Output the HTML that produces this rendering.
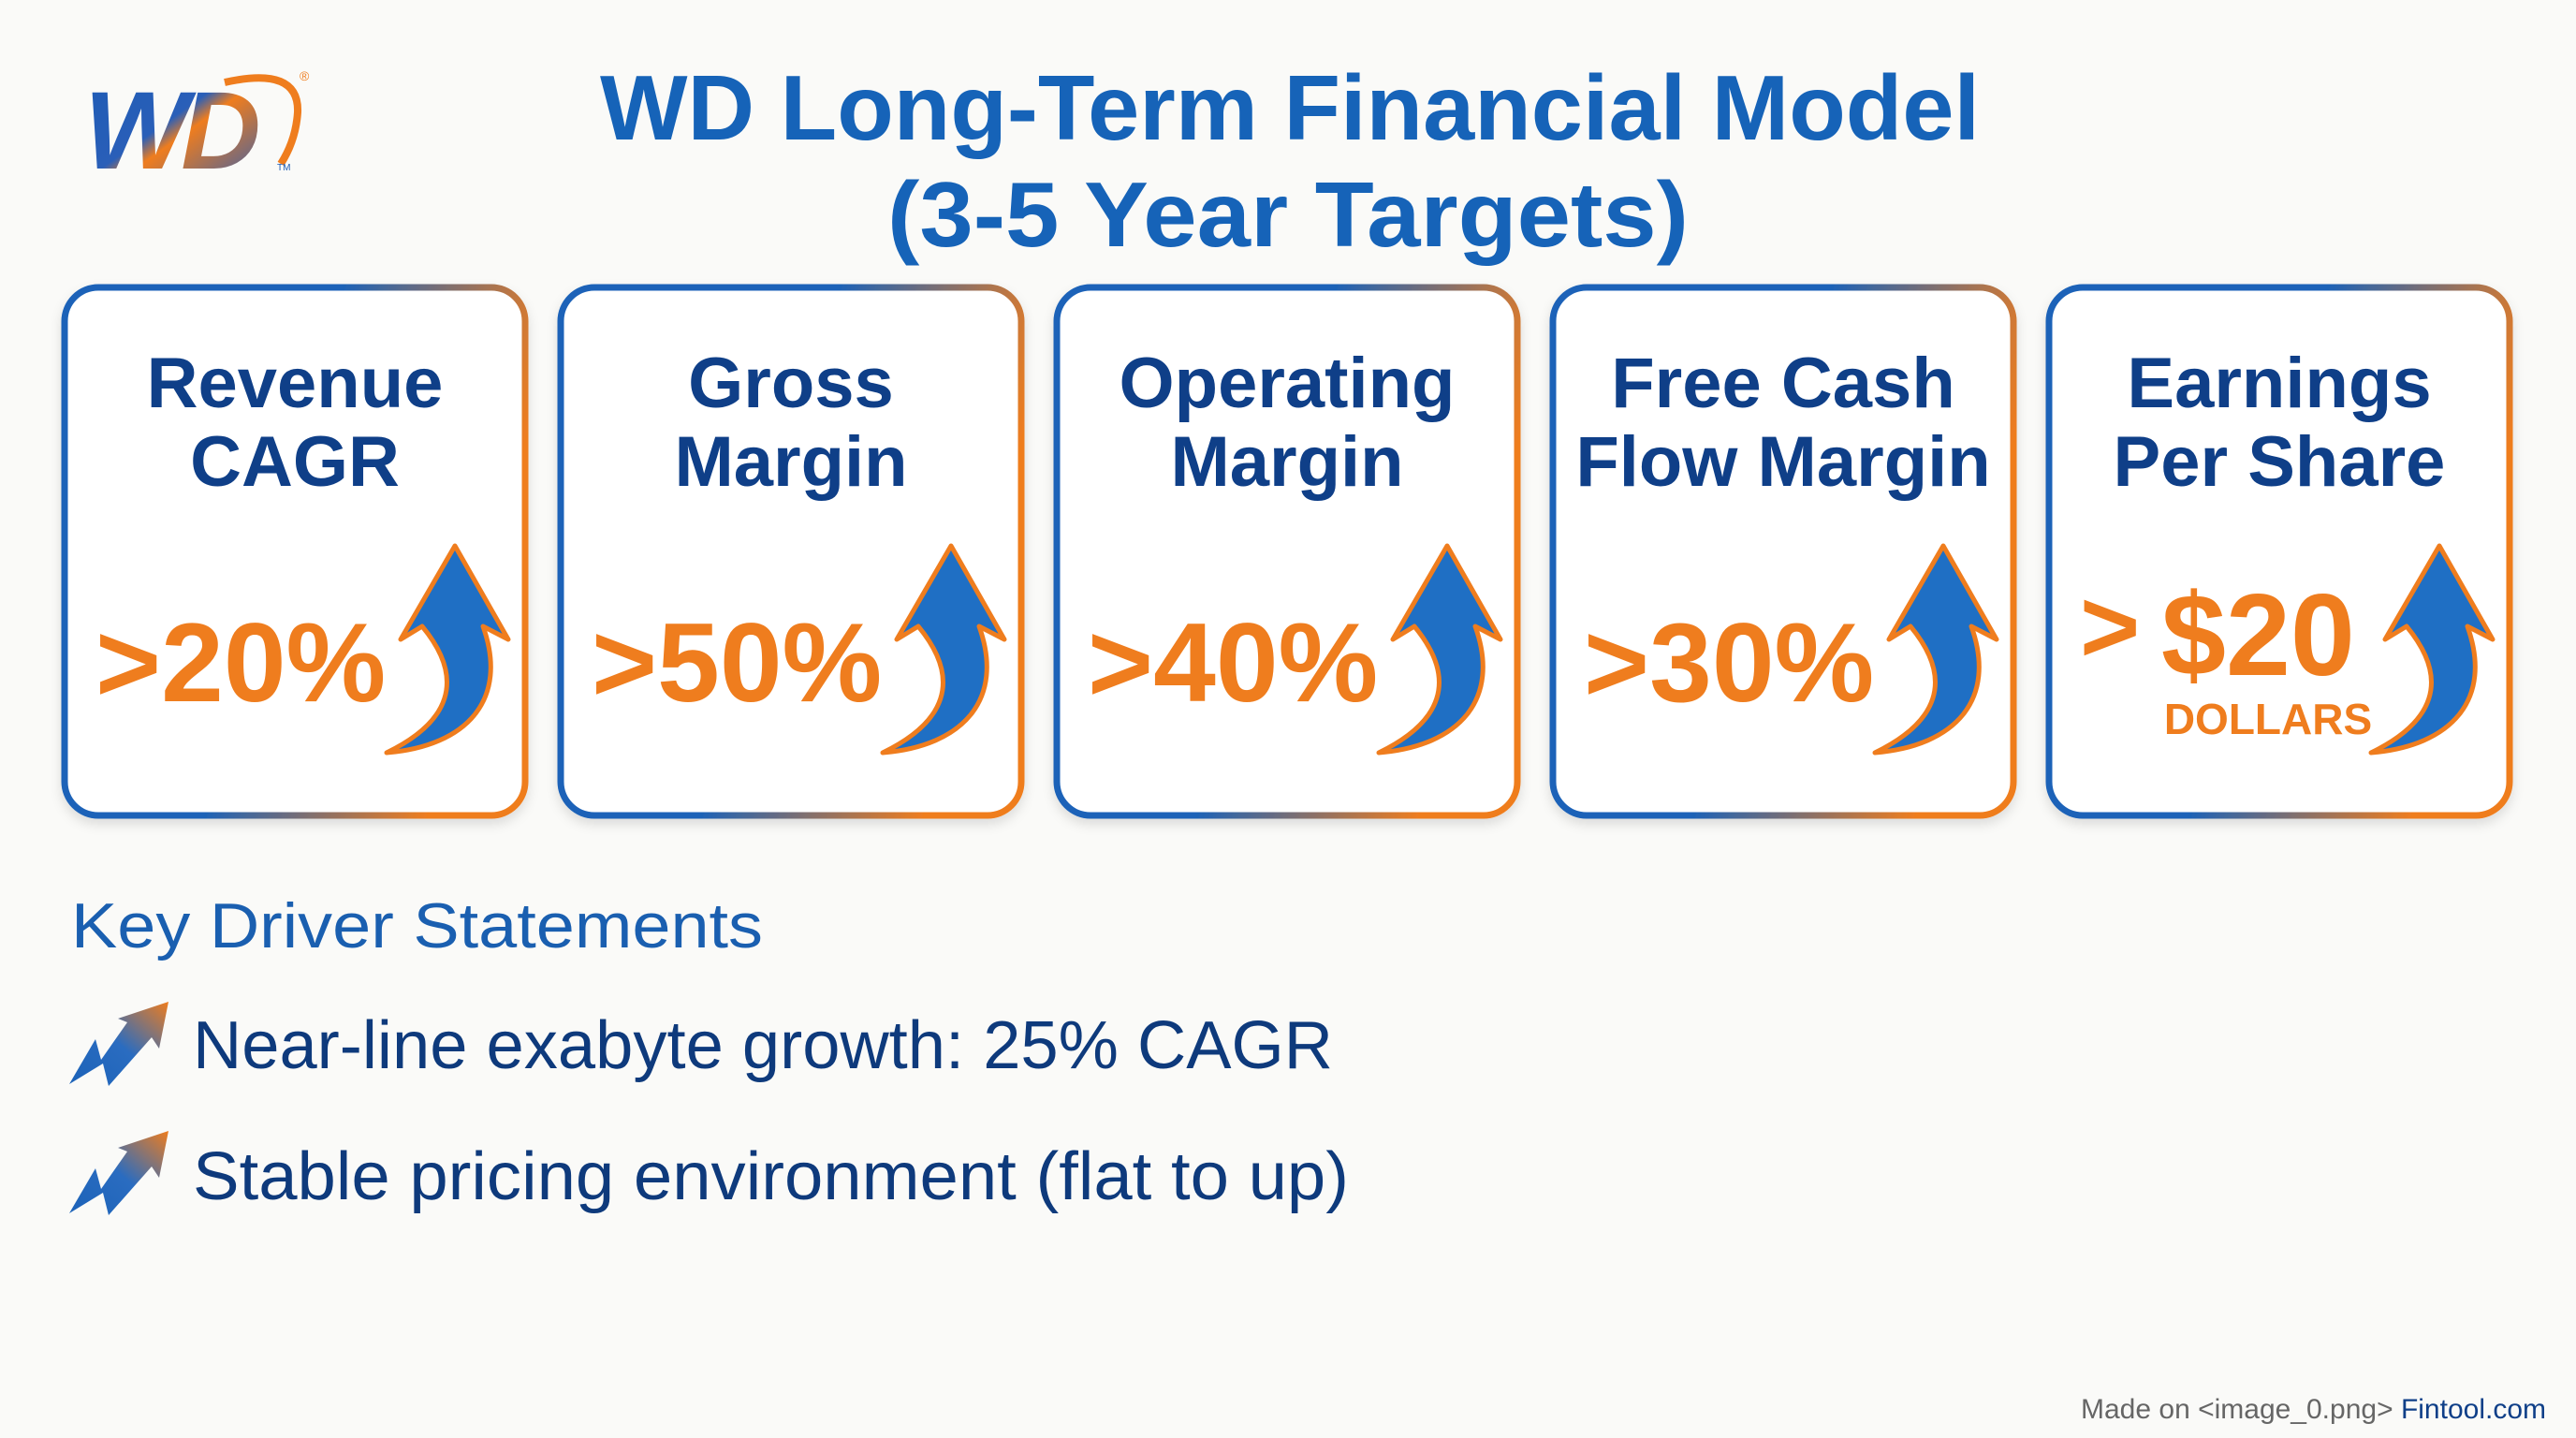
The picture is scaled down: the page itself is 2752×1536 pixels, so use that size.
<!DOCTYPE html>
<html><head><meta charset="utf-8"><style>
html,body{margin:0;padding:0;background:#fafaf8;}
svg{display:block;}
text{font-family:"Liberation Sans",Arial,sans-serif;}
</style></head><body>
<svg width="2752" height="1536" viewBox="0 0 2752 1536" xmlns="http://www.w3.org/2000/svg">
<defs>
<linearGradient id="bd" x1="0" y1="0" x2="1" y2="0.3">
<stop offset="0" stop-color="#1b62b8"/><stop offset="0.55" stop-color="#1b62b8"/><stop offset="1" stop-color="#ef7d1e"/></linearGradient>
<linearGradient id="ic" x1="0" y1="1" x2="1" y2="0">
<stop offset="0" stop-color="#1b62b8"/><stop offset="0.5" stop-color="#2a6cc0"/><stop offset="1" stop-color="#ef7d1e"/></linearGradient>
<linearGradient id="wd" x1="0" y1="0" x2="1" y2="1">
<stop offset="0" stop-color="#1d5bb5"/><stop offset="0.45" stop-color="#2a5fb8"/><stop offset="0.55" stop-color="#ef7d1e"/><stop offset="1" stop-color="#2b5eb5"/></linearGradient>
<filter id="sh" x="-5%" y="-5%" width="110%" height="115%"><feDropShadow dx="0" dy="6" stdDeviation="6" flood-color="#000" flood-opacity="0.12"/></filter>
<g id="arr">
<path d="M344,497 C410,465 430,420 382,362 L359,376 L417,276 L474,376 L447,362 C475,440 430,490 344,497 Z" fill="#1f6fc4" stroke="#ef7d1e" stroke-width="5" stroke-linejoin="round"/>
</g>
<g id="ico">
<path d="M0,88 L28,40 L34,62 L62,22 L52,18 L106,0 L96,50 L88,38 L42,90 L36,66 Z" fill="url(#ic)"/>
</g>
</defs>

<!-- logo -->
<text x="90" y="180" font-size="118" font-weight="bold" font-style="italic" fill="url(#wd)" letter-spacing="-8">WD</text>
<path d="M240,88 Q320,70 318,120 Q316,150 300,175" fill="none" stroke="#ef7d1e" stroke-width="8"/>
<text x="320" y="86" font-size="14" fill="#ef7d1e">®</text>
<text x="296" y="182" font-size="10" fill="#1d5bb5">TM</text>

<!-- title -->
<text x="641" y="149" font-size="98" font-weight="bold" fill="#1663b8" textLength="1474" lengthAdjust="spacingAndGlyphs">WD Long-Term Financial Model</text>
<text x="948" y="263" font-size="98" font-weight="bold" fill="#1663b8" textLength="856" lengthAdjust="spacingAndGlyphs">(3-5 Year Targets)</text>

<!-- cards -->
<g transform="translate(69,307)">
<rect x="0" y="0" width="492" height="564" rx="36" fill="#fff" stroke="url(#bd)" stroke-width="7" filter="url(#sh)"/>
<text x="246" y="128" font-size="76" font-weight="bold" fill="#0f3f88" text-anchor="middle">Revenue</text>
<text x="246" y="212" font-size="76" font-weight="bold" fill="#0f3f88" text-anchor="middle">CAGR</text>
<text x="33" y="442" font-size="120" font-weight="bold" fill="#ef7d1e">&gt;20%</text>
<use href="#arr"/>
</g>
<g transform="translate(599,307)">
<rect x="0" y="0" width="492" height="564" rx="36" fill="#fff" stroke="url(#bd)" stroke-width="7" filter="url(#sh)"/>
<text x="246" y="128" font-size="76" font-weight="bold" fill="#0f3f88" text-anchor="middle">Gross</text>
<text x="246" y="212" font-size="76" font-weight="bold" fill="#0f3f88" text-anchor="middle">Margin</text>
<text x="33" y="442" font-size="120" font-weight="bold" fill="#ef7d1e">&gt;50%</text>
<use href="#arr"/>
</g>
<g transform="translate(1129,307)">
<rect x="0" y="0" width="492" height="564" rx="36" fill="#fff" stroke="url(#bd)" stroke-width="7" filter="url(#sh)"/>
<text x="246" y="128" font-size="76" font-weight="bold" fill="#0f3f88" text-anchor="middle">Operating</text>
<text x="246" y="212" font-size="76" font-weight="bold" fill="#0f3f88" text-anchor="middle">Margin</text>
<text x="33" y="442" font-size="120" font-weight="bold" fill="#ef7d1e">&gt;40%</text>
<use href="#arr"/>
</g>
<g transform="translate(1659,307)">
<rect x="0" y="0" width="492" height="564" rx="36" fill="#fff" stroke="url(#bd)" stroke-width="7" filter="url(#sh)"/>
<text x="246" y="128" font-size="76" font-weight="bold" fill="#0f3f88" text-anchor="middle">Free Cash</text>
<text x="246" y="212" font-size="76" font-weight="bold" fill="#0f3f88" text-anchor="middle">Flow Margin</text>
<text x="33" y="442" font-size="120" font-weight="bold" fill="#ef7d1e">&gt;30%</text>
<use href="#arr"/>
</g>
<g transform="translate(2189,307)">
<rect x="0" y="0" width="492" height="564" rx="36" fill="#fff" stroke="url(#bd)" stroke-width="7" filter="url(#sh)"/>
<text x="246" y="128" font-size="76" font-weight="bold" fill="#0f3f88" text-anchor="middle">Earnings</text>
<text x="246" y="212" font-size="76" font-weight="bold" fill="#0f3f88" text-anchor="middle">Per Share</text>
<text x="33" y="400" font-size="110" font-weight="bold" fill="#ef7d1e">&gt;</text>
<text x="120" y="414" font-size="124" font-weight="bold" fill="#ef7d1e">$20</text>
<text x="234" y="477" font-size="46" font-weight="bold" fill="#ef7d1e" text-anchor="middle">DOLLARS</text>
<use href="#arr"/>
</g>

<!-- key drivers -->
<text x="76" y="1012" font-size="68" fill="#1a5fb0" textLength="739" lengthAdjust="spacingAndGlyphs">Key Driver Statements</text>
<g transform="translate(74,1070)"><use href="#ico"/></g>
<text x="206" y="1141" font-size="72" fill="#0e3a7c" textLength="1218" lengthAdjust="spacingAndGlyphs">Near-line exabyte growth: 25% CAGR</text>
<g transform="translate(74,1208)"><use href="#ico"/></g>
<text x="206" y="1281" font-size="72" fill="#0e3a7c" textLength="1235" lengthAdjust="spacingAndGlyphs">Stable pricing environment (flat to up)</text>

<!-- footer -->
<text x="2720" y="1515" font-size="30" text-anchor="end"><tspan fill="#666">Made on &lt;image_0.png&gt; </tspan><tspan fill="#0f3f88">Fintool.com</tspan></text>
</svg>
</body></html>
